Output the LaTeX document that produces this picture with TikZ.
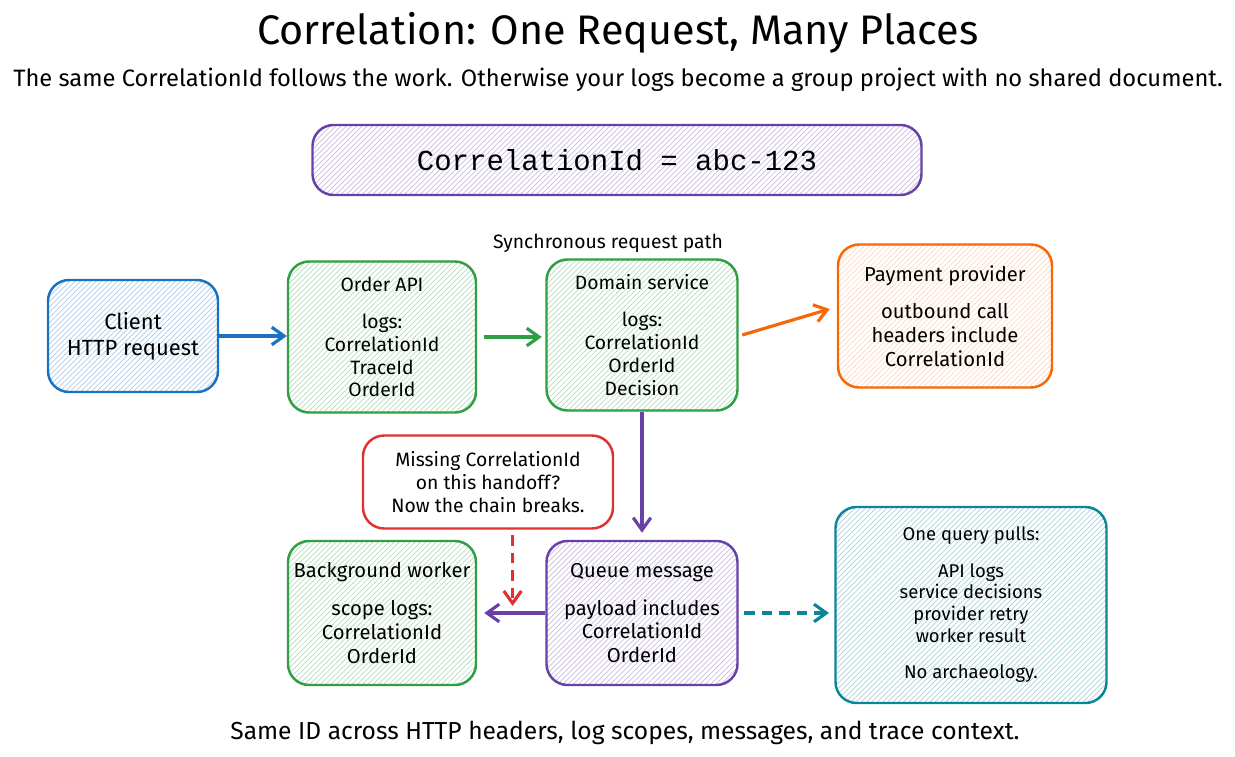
\documentclass[tikz,border=0pt]{standalone}
\usepackage{fontspec}
\setmainfont{Fira Sans}
\setmonofont{Liberation Mono}
\usetikzlibrary{positioning, arrows.meta, patterns}
\definecolor{cblue}{RGB}{25, 113, 194}
\definecolor{cgreen}{RGB}{47, 158, 68}
\definecolor{corange}{RGB}{247, 103, 7}
\definecolor{cred}{RGB}{224, 49, 49}
\definecolor{cpurple}{RGB}{103, 65, 167}
\definecolor{cteal}{RGB}{12, 133, 153}

\tikzset{
 box/.style={draw=#1, line width=1.4pt, rounded corners=12pt, pattern=north east lines, pattern color=#1!35, align=center, font=\fontsize{11}{13}\selectfont, inner sep=0pt},
 link/.style={-{Straight Barb[length=7pt, width=10pt]}, line width=1.8pt, draw=#1},
 broken/.style={dash pattern=on 6pt off 4pt},
}

\begin{document}
\begin{tikzpicture}[x=0.02cm, y=-0.02cm]
 \useasboundingbox (0,0) rectangle (1235,757);
 \node[font=\fontsize{23.5}{26}\selectfont] (title) at (618,33) {Correlation: One Request, Many Places};
 \node[font=\fontsize{13.5}{15}\selectfont] (sub) at (618,80) {The same CorrelationId follows the work. Otherwise your logs become a group project with no shared document.};
 % id banner
 \node[box=cpurple, minimum width=609*0.02cm, minimum height=70*0.02cm, font=\fontsize{16.5}{18}\ttfamily] (cid) at (617,160) {CorrelationId = abc-123};
 \node[font=\fontsize{11}{13}\selectfont] (sync) at (608,243) {Synchronous request path};
 % request path
 \node[box=cblue, minimum width=170*0.02cm, minimum height=112*0.02cm, font=\fontsize{12.5}{15}\selectfont] (client) at (133,336) {Client\\HTTP request};
 \node[box=cgreen, minimum width=188*0.02cm, minimum height=151*0.02cm] (order) at (382,337) {Order API\\[8pt]logs:\\CorrelationId\\TraceId\\OrderId};
 \node[box=cgreen, minimum width=191*0.02cm, minimum height=151*0.02cm] (domain) at (642,335) {Domain service\\[8pt]logs:\\CorrelationId\\OrderId\\Decision};
 \node[box=corange, minimum width=214*0.02cm, minimum height=143*0.02cm, pattern color=corange!25, font=\fontsize{11.5}{13.5}\selectfont] (pay) at (945,316) {Payment provider\\[8pt]outbound call\\headers include\\CorrelationId};
 % async part
 \node[draw=cred, line width=1.4pt, rounded corners=12pt, fill=white, align=center, minimum width=250*0.02cm, minimum height=93*0.02cm, font=\fontsize{11}{13}\selectfont] (note) at (488,482) {Missing CorrelationId\\on this handoff?\\Now the chain breaks.};
 \node[box=cgreen, minimum width=188*0.02cm, minimum height=144*0.02cm, font=\fontsize{11.5}{13.5}\selectfont] (worker) at (382,613) {Background worker\\[8pt]scope logs:\\CorrelationId\\OrderId};
 \node[box=cpurple, minimum width=191*0.02cm, minimum height=144*0.02cm, font=\fontsize{11.5}{13.5}\selectfont] (queue) at (642,613) {Queue message\\[8pt]payload includes\\CorrelationId\\OrderId};
 \node[box=cteal, minimum width=271*0.02cm, minimum height=196*0.02cm, font=\fontsize{10.5}{12.5}\selectfont] (query) at (971,605) {One query pulls:\\[8pt]API logs\\service decisions\\provider retry\\worker result\\[8pt]No archaeology.};
 \node[font=\fontsize{14}{16}\selectfont] (foot) at (625,733) {Same ID across HTTP headers, log scopes, messages, and trace context.};
 % connectors
 \draw[link=cblue] (client.east) -- (order.west |- client.east);
 \draw[link=cgreen] ([xshift=4pt]order.east) -- ([xshift=-2pt]domain.west |- order.east);
 \draw[link=corange] ([xshift=2pt]domain.east) -- ([xshift=-4pt,yshift=4pt]pay.west);
 \draw[link=cpurple] (domain.south) -- ([yshift=4pt]queue.north);
 \draw[link=cpurple] (queue.west) -- ([xshift=4pt]worker.east);
 \draw[link=cred, broken] ([xshift=14pt,yshift=-3pt]note.south) -- ([xshift=14pt,yshift=4pt]note.south |- worker.east);
 \draw[link=cteal, broken] ([xshift=3pt]queue.east) -- ([xshift=-3pt]query.west |- queue.east);
\end{tikzpicture}
\end{document}
